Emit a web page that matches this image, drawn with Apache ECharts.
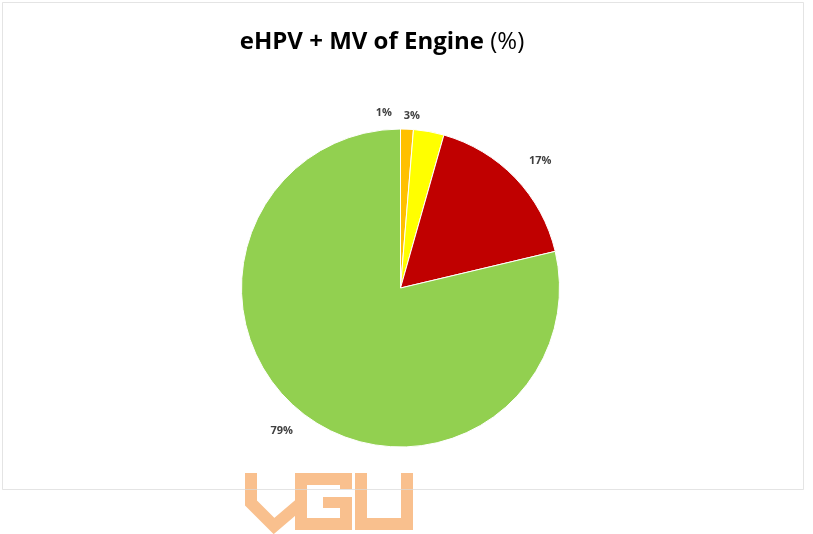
<!DOCTYPE html>
<html>
<head>
<meta charset="utf-8">
<script src="https://cdn.jsdelivr.net/npm/echarts@6/dist/echarts.min.js"></script>
<style>html,body{margin:0;padding:0;background:#fff;}#c{width:813px;height:534px;}</style>
</head>
<body>
<div id="c"></div>
<script>
const categories = ['Orange', 'Yellow', 'Red', 'Green'];
const values = [1.3, 3.1, 16.9, 78.7];
const colors = ['#FFC000', '#FFFF00', '#C00000', '#92D050'];

const chart = echarts.init(document.getElementById('c'), null, {renderer: 'canvas'});
const wm = '#F9C08E';
chart.setOption({
  backgroundColor: '#ffffff',
  animation: false,
  title: {
    text: '{b|eHPV + MV of Engine }{n|(%)}',
    left: 377, top: 25, textAlign: 'center',
    textStyle: {
      rich: {
        b: {fontFamily: 'Open Sans', fontWeight: 'bold', fontSize: 24, color: '#000'},
        n: {fontFamily: 'Open Sans', fontWeight: 'normal', fontSize: 24, color: '#000'}
      }
    }
  },
  graphic: [
    {type: 'group', z: 100, children: [
      {type: 'polyline', shape: {points: [[251,473],[251,503],[274,526],[301,503]]}, style: {stroke: wm, lineWidth: 12, fill: 'none'}},
      {type: 'rect', shape: {x: 295, y: 473, width: 12, height: 57}, style: {fill: wm}},
      {type: 'rect', shape: {x: 295, y: 473, width: 57, height: 12, r: [0,4,0,0]}, style: {fill: wm}},
      {type: 'rect', shape: {x: 340, y: 473, width: 12, height: 16}, style: {fill: wm}},
      {type: 'rect', shape: {x: 323, y: 497, width: 29, height: 11}, style: {fill: wm}},
      {type: 'rect', shape: {x: 340, y: 497, width: 12, height: 33}, style: {fill: wm}},
      {type: 'rect', shape: {x: 295, y: 518, width: 57, height: 12, r: [0,0,3,3]}, style: {fill: wm}},
      {type: 'rect', shape: {x: 355, y: 473, width: 12, height: 57}, style: {fill: wm}},
      {type: 'rect', shape: {x: 355, y: 518, width: 58, height: 12, r: [0,0,3,3]}, style: {fill: wm}},
      {type: 'rect', shape: {x: 401, y: 473, width: 12, height: 57}, style: {fill: wm}}
    ]},
    {type: 'rect', shape: {x: 2.5, y: 2.5, width: 801, height: 487}, style: {fill: 'none', stroke: '#d9d9d9', lineWidth: 1, opacity: 0.7}, z: 101}
  ],
  series: [{
    type: 'pie',
    center: [400.5, 288],
    radius: 159,
    startAngle: 90,
    clockwise: true,
    avoidLabelOverlap: false,
    itemStyle: {borderColor: '#ffffff', borderWidth: 1},
    label: {
      show: true,
      position: 'outside',
      formatter: function (p) { return Math.round(p.value) + '%'; },
      fontFamily: 'Open Sans', fontWeight: 'bold', fontSize: 11, color: '#404040'
    },
    labelLine: {show: false, length: 16, length2: 0},
    labelLayout: function (p) {
      if (p.dataIndex === 0) return {dx: -37, dy: 0};
      if (p.dataIndex === 1) return {dx: -33, dy: 0};
      if (p.dataIndex === 2) return {dx: -3, dy: -6};
      if (p.dataIndex === 3) return {dx: 6, dy: 6};
      return {};
    },
    data: categories.map((c, i) => ({name: c, value: values[i], itemStyle: {color: colors[i]}}))
  }]
});
</script>
</body>
</html>
